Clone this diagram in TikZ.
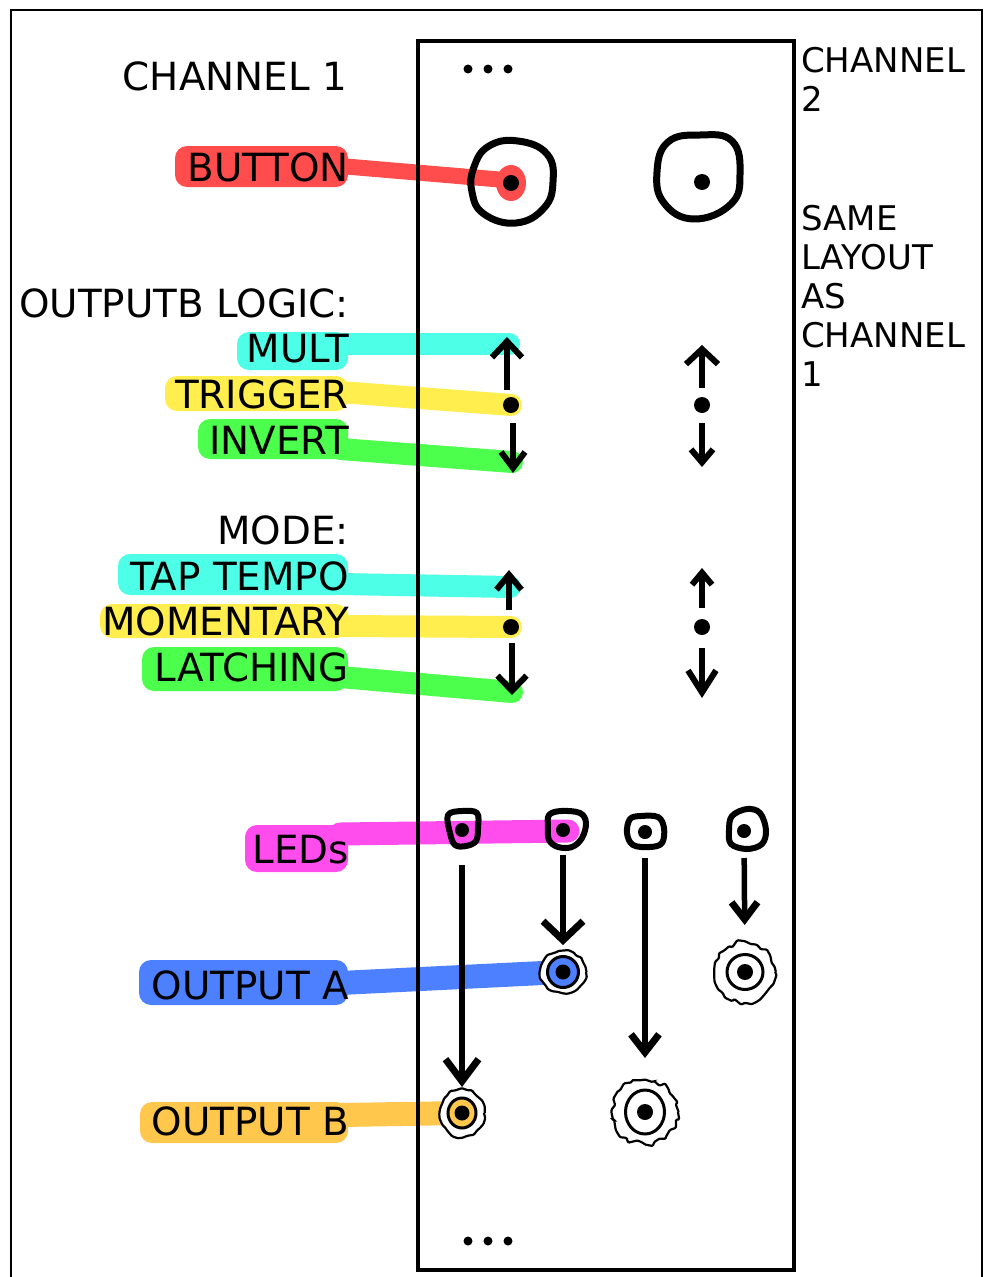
\documentclass[tikz,border=0pt]{standalone}
\usepackage{fontspec}
\setmainfont{DejaVu Sans}
\usetikzlibrary{arrows.meta,decorations.pathmorphing,calc}

\definecolor{hlred}{RGB}{255,77,77}
\definecolor{hlcyan}{RGB}{77,255,230}
\definecolor{hlyellow}{RGB}{255,238,77}
\definecolor{hlgreen}{RGB}{77,255,77}
\definecolor{hlmagenta}{RGB}{255,77,237}
\definecolor{hlblue}{RGB}{77,128,255}
\definecolor{hlorange}{RGB}{255,200,77}

\tikzset{
  blob/.style={rounded corners=12pt},
  band/.style={line width=22pt, line cap=round},
  lbl/.style={anchor=base east, inner sep=0pt, font=\fontsize{38.8}{46}\selectfont},
  side/.style={anchor=base west, inner sep=0pt, font=\fontsize{34}{40}\selectfont},
  panel/.style={line width=4pt},
  frame/.style={line width=1.5pt},
  knob/.style={line width=7pt, line join=round},
  ledring/.style={line width=6pt, line join=round},
  lever/.style 2 args={line width=6pt, -{Straight Barb[length=#1, width=#2, line width=6pt]}},
  flow/.style 2 args={line width=5.5pt, -{Straight Barb[length=#1, width=#2, line width=7pt]}},
  rim/.style={line width=2.2pt, fill=white, rounded corners=1pt, decorate,
    decoration={random steps, segment length=5pt, amplitude=#1}},
  rim/.default=1.3pt,
  ring/.style={line width=3pt},
}

\begin{document}
\begin{tikzpicture}[x=1pt, y=-1pt]
\pgfmathsetseed{4242}
\useasboundingbox (0,0) rectangle (984,1277);

% ---- component positions -------------------------------------------
\coordinate (btn1) at (511,183);
\coordinate (btn2) at (702,182);
\coordinate (swa-up) at (509,344);
\coordinate (swa-mid) at (511,405);
\coordinate (swa-dn) at (512,462);
\coordinate (swb-up) at (510,587);
\coordinate (swb-mid) at (511,627);
\coordinate (swb-dn) at (512,692);
\coordinate (led1) at (462,830);
\coordinate (led2) at (563,830);
\coordinate (led3) at (645,832);
\coordinate (led4) at (744,831);
\coordinate (jackA1) at (563,972);
\coordinate (jackA2) at (745,972);
\coordinate (jackB1) at (462,1113);
\coordinate (jackB2) at (645,1112);

% ---- label anchors for the highlighter strokes ---------------------
\coordinate (h-button) at (340,166);
\coordinate (h-mult) at (340,344);
\coordinate (h-trigger) at (340,392);
\coordinate (h-invert) at (340,449);
\coordinate (h-tap) at (340,584);
\coordinate (h-moment) at (340,626);
\coordinate (h-latch) at (340,677);
\coordinate (h-leds) at (340,834);
\coordinate (h-outa) at (340,983);
\coordinate (h-outb) at (340,1115);

% ---- highlighter marks ---------------------------------------------
\fill[hlred, blob] (175,146) rectangle (348,187);
\draw[hlred, line width=16pt, line cap=round] (h-button) -- ($(btn1)+(-6,-3)$);
\fill[hlred] (btn1) ellipse [x radius=15, y radius=18];

\fill[hlcyan, blob] (237,332) rectangle (348,370);
\draw[hlcyan, band] (h-mult) -- (swa-up);
\fill[hlyellow, blob] (165,376) rectangle (348,411);
\draw[hlyellow, band] (h-trigger) -- (swa-mid);
\fill[hlgreen, blob] (198,419) rectangle (348,459);
\draw[hlgreen, band] (h-invert) -- (swa-dn);

\fill[hlcyan, blob] (118,554) rectangle (348,595);
\draw[hlcyan, band] (h-tap) -- (swb-up);
\fill[hlyellow, blob] (100,604) rectangle (348,638);
\draw[hlyellow, band] (h-moment) -- (swb-mid);
\fill[hlgreen, blob] (142,647) rectangle (348,691);
\draw[hlgreen, band] (h-latch) -- (swb-dn);

\fill[hlmagenta, blob] (245,825) rectangle (348,872);
\draw[hlmagenta, band, line width=23pt] (h-leds) -- ($(led2)+(5,1)$);
\fill[hlblue, blob] (139,960) rectangle (348,1005);
\draw[hlblue, band, line width=24pt] (h-outa) -- (jackA1);
\fill[hlorange, blob] (140,1102) rectangle (348,1143);
\draw[hlorange, band, line width=24pt] (h-outb) -- (jackB1);

% ---- page frame and module panel -----------------------------------
\draw[frame] (11,1277) -- (11,10) -- (982,10) -- (982,1277);
\draw[panel] (418,41) rectangle (794,1270);

\foreach \x in {468,488,508} {
  \fill (\x,69) circle (4.5);
  \fill (\x,1241) circle (4.5);
}

% ---- push buttons --------------------------------------------------
\draw[knob] plot[smooth cycle, tension=0.75] coordinates
  {(489,146) (518,141) (547,154) (553,182) (544,208) (516,223) (484,214) (472,192) (474,167)};
\fill (btn1) circle (8);
\draw[knob] plot[smooth cycle, tension=0.75] coordinates
  {(668,142) (700,135) (732,141) (740,174) (731,204) (694,219) (664,203) (657,172)};
\fill (btn2) circle (8);

% ---- three-way switches --------------------------------------------
\draw[lever={16pt}{30pt}] (507,390) -- (507,337);
\fill (swa-mid) circle (8);
\draw[lever={16pt}{24pt}] (513,423) -- (513,473);
\draw[lever={15pt}{32pt}] (702,388) -- (702,345);
\fill (702,405) circle (8);
\draw[lever={13pt}{22pt}] (702,423) -- (702,467);

\draw[lever={15pt}{25pt}] (509,610) -- (509,570);
\fill (swb-mid) circle (8);
\draw[lever={15pt}{29pt}] (512,643) -- (512,695);
\draw[lever={12pt}{20pt}] (702,608) -- (702,568);
\fill (702,627) circle (8);
\draw[lever={22pt}{28pt}] (702,648) -- (702,698);

% ---- LEDs ----------------------------------------------------------
\draw[ledring] plot[smooth cycle, tension=0.6] coordinates
  {(448,815) (462,811) (477,813) (478,828) (476,841) (466,846) (455,845) (450,833)};
\fill (led1) circle (7);
\draw[ledring] plot[smooth cycle, tension=0.6] coordinates
  {(549,815) (561,811) (580,813) (586,823) (582,838) (572,847) (558,847) (549,840) (548,827)};
\fill (led2) circle (7);
\draw[ledring] plot[smooth cycle, tension=0.6] coordinates
  {(630,819) (641,816) (658,817) (664,828) (662,843) (650,847) (633,845) (627,833)};
\fill (led3) circle (7);
\draw[ledring] plot[smooth cycle, tension=0.6] coordinates
  {(732,816) (747,809) (760,813) (766,830) (762,844) (747,849) (731,844) (729,830)};
\fill (led4) circle (7);

% ---- output jacks --------------------------------------------------
\draw[rim] (jackA1) ellipse [x radius=23, y radius=21];
\draw[ring, fill=hlblue] (jackA1) circle (15.5);
\fill (jackA1) circle (7.5);

\draw[rim=2.6pt] (jackA2) ellipse [x radius=30, y radius=30];
\draw[ring] (jackA2) ellipse [x radius=18, y radius=17.5];
\fill (jackA2) circle (8);

\draw[rim] (jackB1) ellipse [x radius=22, y radius=24];
\draw[ring, fill=hlorange] (jackB1) ellipse [x radius=14, y radius=15];
\fill (jackB1) circle (7.5);

\draw[rim=2.8pt] (jackB2) ellipse [x radius=33, y radius=32];
\draw[ring] (jackB2) ellipse [x radius=19.5, y radius=22];
\fill (jackB2) circle (8);

% ---- LED to jack arrows --------------------------------------------
\draw[flow={22pt}{33pt}, shorten <=35pt, shorten >=26pt] (led1) -- (jackB1);
\draw[flow={19pt}{40pt}, shorten <=25pt, shorten >=27pt] (led2) -- (jackA1);
\draw[flow={18pt}{28pt}, shorten <=26pt, shorten >=54pt] (led3) -- (jackB2);
\draw[flow={17pt}{26pt}, shorten <=27pt, shorten >=47pt] (led4) -- (jackA2);

% ---- labels --------------------------------------------------------
\node[lbl] (title1) at (347,90) {CHANNEL 1};
\node[lbl] (tbutton) at (349,181) {BUTTON};
\node[lbl] (tlogic) at (349,317) {OUTPUTB LOGIC:};
\node[lbl] (tmult) at (349,362) {MULT};
\node[lbl] (ttrigger) at (349,408) {TRIGGER};
\node[lbl] (tinvert) at (349,454) {INVERT};
\node[lbl] (tmode) at (349,544) {MODE:};
\node[lbl] (ttap) at (349,590) {TAP TEMPO};
\node[lbl] (tmoment) at (349,635) {MOMENTARY};
\node[lbl] (tlatch) at (349,681) {LATCHING};
\node[lbl] (tleds) at (349,863) {LEDs};
\node[lbl] (touta) at (349,999) {OUTPUT A};
\node[lbl] (toutb) at (349,1135) {OUTPUT B};

\node[side] (title2a) at (801,72) {CHANNEL};
\node[side] (title2b) at (801,111) {2};
\node[side] (note1) at (801,230) {SAME};
\node[side] (note2) at (801,269) {LAYOUT};
\node[side] (note3) at (801,308) {AS};
\node[side] (note4) at (801,347) {CHANNEL};
\node[side] (note5) at (801,386) {1};
\end{tikzpicture}
\end{document}
